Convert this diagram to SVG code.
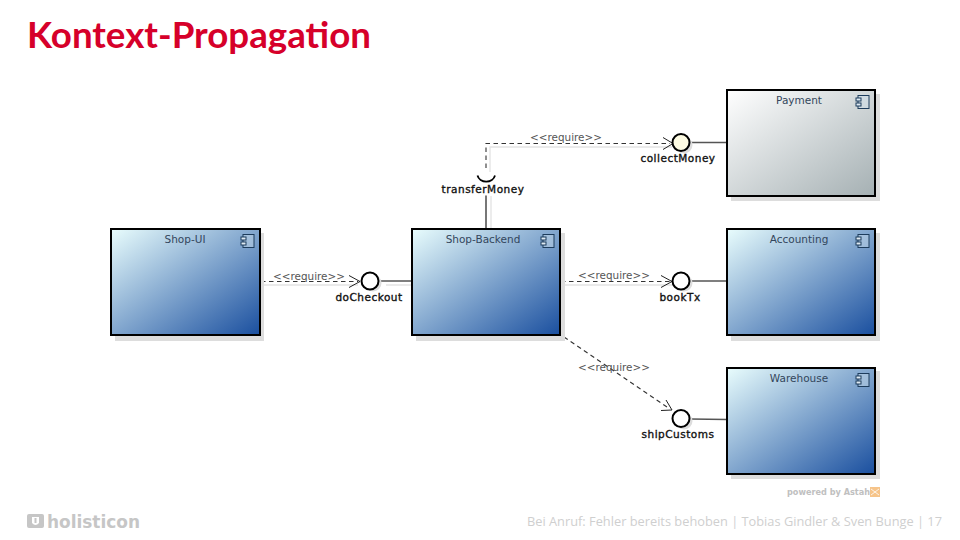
<svg xmlns="http://www.w3.org/2000/svg" width="960" height="540" viewBox="0 0 960 540">
<style>
text{font-family:"DejaVu Sans",sans-serif}
.nm{font-size:10.500px;fill:#33465c;text-anchor:middle}
.if{font-size:10.500px;letter-spacing:.5px;fill:#111;text-anchor:middle;stroke:#111;stroke-width:.35}
.rq{font-size:10.400px;fill:#555;text-anchor:middle}
.box{stroke:#000;stroke-width:2}
.blue{fill:url(#g)}
.sh{fill:#ddd;stroke:none}
.dash{fill:none;stroke:#333;stroke-width:1.1;stroke-dasharray:4.500 3.500}
.dsh{fill:none;stroke:#e4e4e4;stroke-width:1.400}
.sol{fill:none;stroke:#555;stroke-width:1.300}
.arr{fill:none;stroke:#222;stroke-width:1}
.cir{fill:#fff;stroke:#000;stroke-width:2}
</style>
<defs>
<linearGradient id="g" x1="0" y1="0" x2="1" y2="1"><stop offset="0" stop-color="#e9fdfd"/><stop offset="1" stop-color="#1a4f9f"/></linearGradient>
<linearGradient id="p" x1="0" y1="0" x2="1" y2="1"><stop offset="0" stop-color="#ffffff"/><stop offset="1" stop-color="#a5b0b3"/></linearGradient>
<g id="icon"><rect x="-7" y="-6" width="11" height="13" fill="#cfe0ee" fill-opacity=".45" stroke="#1d3c5c"/><rect x="-9" y="-3.500" width="5" height="3" fill="#dfeaf3" stroke="#1d3c5c"/><rect x="-9" y="1.500" width="5" height="3" fill="#dfeaf3" stroke="#1d3c5c"/></g>
</defs>
<rect width="960" height="540" fill="#fff"/>
<text x="27" y="48" font-size="36" font-weight="700" fill="#d6002a" style="font-family:Lato,'Liberation Sans',sans-serif" textLength="344" lengthAdjust="spacingAndGlyphs">Kontext-Propagation</text>

<g id="connectors">
<path class="dsh" d="M264 285H358M564 285H672M490 172V147H672"/>
<path class="dsh" d="M491 196V232M414 285H386"/>
<path class="dash" d="M261 281.500H358"/>
<path class="arr" d="M349 275.500L360 281.500L349 287.500"/>
<path class="dash" d="M561 281.500H670"/>
<path class="arr" d="M661 275.500L672 281.500L661 287.500"/>
<path class="dash" d="M486 168V143.500H670"/>
<path class="arr" d="M663 137.500L673 143.500L663 149.500"/>
<path class="dash" d="M564 337L670 409"/>
<path class="arr" d="M661 410.500L672 410L666 400"/>
<path class="sol" d="M380 281H412M690 281H727M690 142.500H727M690 419L727 419.500"/>
<path d="M486 195.500V229" fill="none" stroke="#777" stroke-width="2"/>
<path d="M477.500 175.500A9 8 0 0 0 495 175.500" fill="none" stroke="#000" stroke-width="1.800"/>
</g>

<g id="shop-ui"><rect class="sh" x="115" y="233" width="149" height="108"/><rect class="box blue" x="111" y="229" width="149" height="106"/><text class="nm" x="185" y="243">Shop-UI</text><use href="#icon" x="250" y="240.500"/></g>
<g id="shop-backend"><rect class="sh" x="416" y="233" width="149" height="108"/><rect class="box blue" x="412" y="229" width="148" height="106"/><text class="nm" x="483" y="243">Shop-Backend</text><use href="#icon" x="550" y="240.500"/></g>
<g id="payment"><rect class="sh" x="731" y="94" width="149" height="107"/><rect class="box" fill="url(#p)" x="727" y="90" width="148" height="106"/><text class="nm" x="799" y="104">Payment</text><use href="#icon" x="865" y="101.500"/></g>
<g id="accounting"><rect class="sh" x="731" y="233" width="149" height="108"/><rect class="box blue" x="727" y="229" width="148" height="106"/><text class="nm" x="799" y="243">Accounting</text><use href="#icon" x="865" y="240.500"/></g>
<g id="warehouse"><rect class="sh" x="731" y="371" width="149" height="108"/><rect class="box blue" x="727" y="368" width="148" height="106"/><text class="nm" x="799" y="382">Warehouse</text><use href="#icon" x="865" y="379.500"/></g>

<g id="doCheckout"><circle cx="373" cy="283" r="8.500" fill="#ddd"/><circle class="cir" cx="370" cy="281" r="8.500"/><text class="if" x="369" y="301">doCheckout</text></g>
<g id="transferMoney"><text class="if" x="483" y="193">transferMoney</text></g>
<g id="collectMoney"><circle cx="684" cy="145" r="8.500" fill="#ddd"/><circle class="cir" style="fill:#fdfbe3" cx="681" cy="142.500" r="8.500"/><text class="if" x="678" y="162">collectMoney</text></g>
<g id="bookTx"><circle cx="684" cy="283" r="8.500" fill="#ddd"/><circle class="cir" cx="681" cy="281" r="8.500"/><text class="if" x="680" y="301">bookTx</text></g>
<g id="shipCustoms"><circle cx="684" cy="421" r="8.500" fill="#ddd"/><circle class="cir" cx="681" cy="418.500" r="8.500"/><text class="if" x="678" y="438">shipCustoms</text></g>

<g id="labels">
<text class="rq" x="309" y="280">&lt;&lt;require&gt;&gt;</text>
<text class="rq" x="614" y="279">&lt;&lt;require&gt;&gt;</text>
<text class="rq" x="566" y="141">&lt;&lt;require&gt;&gt;</text>
<text class="rq" x="614" y="371">&lt;&lt;require&gt;&gt;</text>
</g>

<g id="footer">
<text x="787" y="495" font-size="8.500" font-weight="700" fill="#c0c0c0" textLength="83" lengthAdjust="spacingAndGlyphs">powered by Astah</text>
<rect x="870" y="487" width="10" height="10" fill="#f6c48a"/>
<path d="M871 489L879 495M871 495L879 489" stroke="#fff" stroke-width=".8"/>
<rect x="27" y="514" width="17" height="14" rx="2" fill="#c6c6c6"/><path d="M32 517V523Q35.500 527 39 523V517" fill="#fff"/><rect x="34.500" y="518" width="2" height="5" fill="#c6c6c6"/>
<text x="47" y="528" font-size="17" font-weight="700" fill="#c6c6c6" textLength="93" lengthAdjust="spacingAndGlyphs">holisticon</text>
<text x="527" y="526" font-size="12.500" fill="#cfcfcf" style="font-family:'Open Sans',sans-serif" textLength="415" lengthAdjust="spacingAndGlyphs">Bei Anruf: Fehler bereits behoben | Tobias Gindler &amp; Sven Bunge | 17</text>
</g>
</svg>
